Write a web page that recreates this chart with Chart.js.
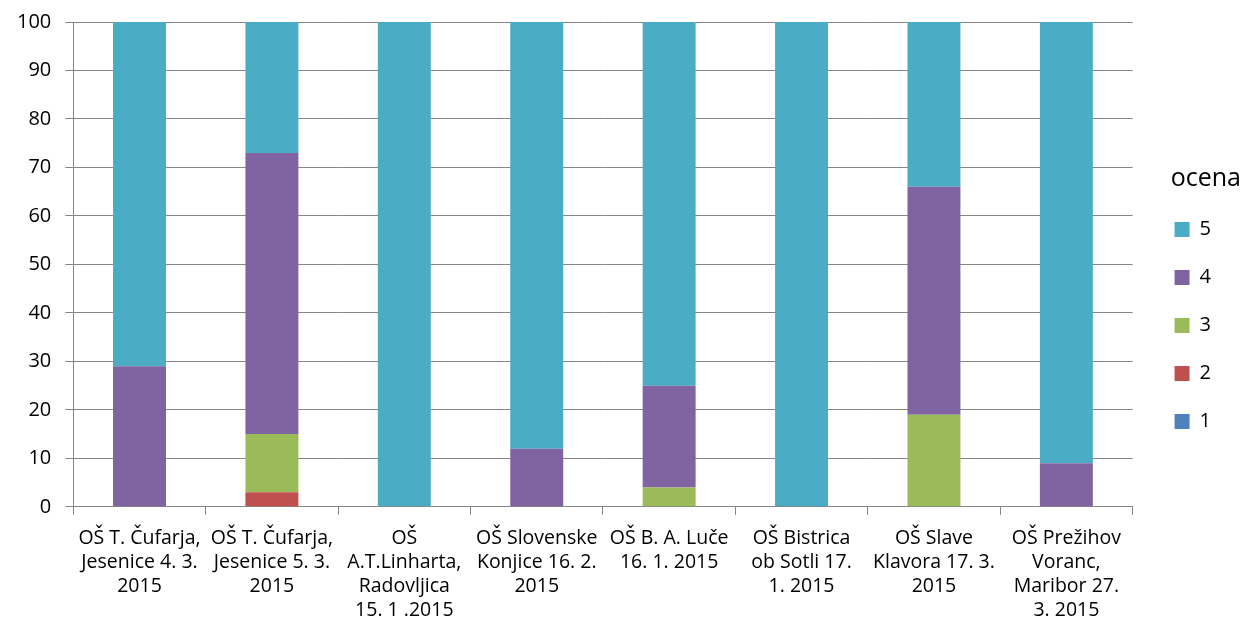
<!DOCTYPE html>
<html lang="sl">
<head>
<meta charset="UTF-8">
<title>ocena</title>
<script src="https://cdn.jsdelivr.net/npm/chart.js"></script>
<style>
  body { margin: 0; background: #fff; }
  #wrap { width: 1250px; height: 635px; }
</style>
</head>
<body>
<div id="wrap"><canvas id="chart"></canvas></div>
<script>
const schools = [
  ['OŠ T. Čufarja,', 'Jesenice 4. 3.', '2015'],
  ['OŠ T. Čufarja,', 'Jesenice 5. 3.', '2015'],
  ['OŠ', 'A.T.Linharta,', 'Radovljica', '15. 1 .2015'],
  ['OŠ Slovenske', 'Konjice 16. 2.', '2015'],
  ['OŠ B. A. Luče', '16. 1. 2015'],
  ['OŠ Bistrica', 'ob Sotli 17.', '1. 2015'],
  ['OŠ Slave', 'Klavora 17. 3.', '2015'],
  ['OŠ Prežihov', 'Voranc,', 'Maribor 27.', '3. 2015']
];
const grade1 = [0, 0, 0, 0, 0, 0, 0, 0];
const grade2 = [0, 3, 0, 0, 0, 0, 0, 0];
const grade3 = [0, 12, 0, 0, 4, 0, 19, 0];
const grade4 = [29, 58, 0, 12, 21, 0, 47, 9];
const grade5 = [71, 27, 100, 88, 75, 100, 34, 91];
const yTicks = [0, 10, 20, 30, 40, 50, 60, 70, 80, 90, 100];

const font = "'Open Sans', 'DejaVu Sans', sans-serif";

function ds(label, data, color) {
  return { label, data, backgroundColor: color, borderWidth: 0,
    barPercentage: 0.4, categoryPercentage: 1 };
}

// push the legend away from the plot and a bit up, title flush right
const legendShift = {
  id: 'legendShift',
  afterLayout(chart) {
    const lg = chart.legend;
    if (!lg) return;
    lg.left += 14;
    lg.right += 34;
    lg.width += 20;
    lg.top -= 7;
    lg.bottom -= 7;
  }
};

new Chart(document.getElementById('chart'), {
  type: 'bar',
  data: {
    labels: schools,
    datasets: [
      ds('1', grade1, '#4F81BD'),
      ds('2', grade2, '#C0504D'),
      ds('3', grade3, '#9BBB59'),
      ds('4', grade4, '#8064A2'),
      ds('5', grade5, '#4BACC6')
    ]
  },
  plugins: [legendShift],
  options: {
    responsive: true,
    maintainAspectRatio: false,
    animation: false,
    layout: { padding: { left: 3, top: 6, right: 43, bottom: 1 } },
    plugins: {
      tooltip: { enabled: false },
      legend: {
        position: 'right',
        reverse: true,
        title: { display: true, text: 'ocena', color: '#000', position: 'end',
          font: { family: font, size: 25, lineHeight: 1.0 }, padding: { top: 0, bottom: 0 } },
        labels: { color: '#000', boxWidth: 15, boxHeight: 15,
          padding: 28, font: { family: font, size: 20 } }
      }
    },
    scales: {
      x: {
        stacked: true,
        grid: { offset: true, drawOnChartArea: false, color: '#868686', tickLength: 8, lineWidth: 1 },
        border: { color: '#868686' },
        ticks: { color: '#000', font: { family: font, size: 19.5, lineHeight: 1.22 },
          maxRotation: 0, autoSkip: false, padding: 12 }
      },
      y: {
        stacked: true,
        min: 0, max: 100,
        afterBuildTicks: (axis) => { axis.ticks = yTicks.map(v => ({ value: v })); },
        afterFit: (axis) => { axis.paddingTop = 22; },
        grid: { color: '#868686', tickLength: 8 },
        border: { color: '#868686' },
        ticks: { color: '#000', font: { family: font, size: 20 }, padding: 14 }
      }
    }
  }
});
</script>
</body>
</html>
